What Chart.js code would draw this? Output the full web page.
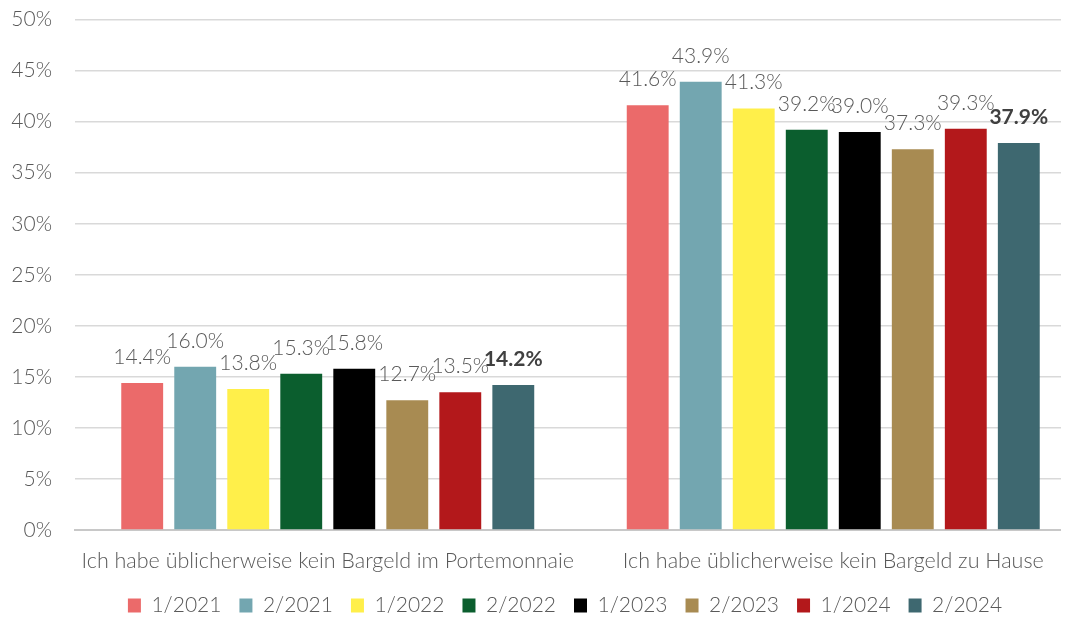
<!DOCTYPE html>
<html>
<head>
<meta charset="utf-8">
<script src="https://cdn.jsdelivr.net/npm/chart.js@4/dist/chart.umd.min.js"></script>
<style>
  html, body { margin: 0; padding: 0; background: #ffffff; overflow: hidden; }
  #frame { width: 1061px; height: 617px; overflow: hidden; position: relative; }
  canvas { display: block; }
</style>
</head>
<body>
<div id="frame"><canvas id="c" width="1152" height="630"></canvas></div>
<script>
// Survey answers (share of respondents, %)
const categories = [
  'Ich habe üblicherweise kein Bargeld im Portemonnaie',
  'Ich habe üblicherweise kein Bargeld zu Hause'
];
const waves = ['1/2021', '2/2021', '1/2022', '2/2022', '1/2023', '2/2023', '1/2024', '2/2024'];
const waveColors = ['#EB6A6A', '#73A6B0', '#FFEF4A', '#0B5E2E', '#000000', '#A88B52', '#B3181B', '#3E6870'];
const v_1_2021 = [14.4, 41.6];
const v_2_2021 = [16.0, 43.9];
const v_1_2022 = [13.8, 41.3];
const v_2_2022 = [15.3, 39.2];
const v_1_2023 = [15.8, 39.0];
const v_2_2023 = [12.7, 37.3];
const v_1_2024 = [13.5, 39.3];
const v_2_2024 = [14.2, 37.9];
const seriesValues = [v_1_2021, v_2_2021, v_1_2022, v_2_2022, v_1_2023, v_2_2023, v_1_2024, v_2_2024];
const yTicks = [0, 5, 10, 15, 20, 25, 30, 35, 40, 45, 50];

const FONT = 'Lato, "Open Sans", sans-serif';
const GREY = '#595959';

// Value labels above each bar; the latest wave is set in bold
const valueLabels = {
  id: 'valueLabels',
  afterDatasetsDraw(chart) {
    const ctx = chart.ctx;
    ctx.save();
    ctx.textAlign = 'center';
    ctx.textBaseline = 'alphabetic';
    chart.data.datasets.forEach((ds, di) => {
      const meta = chart.getDatasetMeta(di);
      const last = di === chart.data.datasets.length - 1;
      ctx.font = (last ? '700 ' : '300 ') + '21px ' + FONT;
      ctx.fillStyle = last ? '#404040' : GREY;
      meta.data.forEach((bar, i) => {
        ctx.fillText(ds.data[i].toFixed(1) + '%', bar.x, bar.y - 19);
      });
    });
    ctx.restore();
  }
};

// Centre the legend row under the plot rather than the whole canvas
const legendInset = {
  id: 'legendInset',
  afterLayout(chart) {
    if (chart.legend) chart.legend.left += 44;
  }
};

new Chart(document.getElementById('c'), {
  type: 'bar',
  data: {
    labels: categories,
    datasets: waves.map((w, i) => ({
      label: w,
      data: seriesValues[i],
      backgroundColor: waveColors[i],
      borderWidth: 0,
      categoryPercentage: 0.839,
      barPercentage: 0.79
    }))
  },
  options: {
    responsive: false,
    animation: false,
    layout: { padding: { left: 0, right: 66, top: 0, bottom: 4 } },
    scales: {
      x: {
        afterFit(scale) { scale.height -= 8; },
        grid: { display: false },
        border: { display: true, color: '#C8C8C8', width: 2 },
        ticks: {
          color: GREY,
          font: { family: FONT, size: 21.5, weight: '300', lineHeight: 0.7 },
          padding: 16,
          maxRotation: 0,
          autoSkip: false
        }
      },
      y: {
        min: 0,
        max: 50,
        afterFit(scale) { scale.width = 75; },
        afterBuildTicks(scale) { scale.ticks = yTicks.map(v => ({ value: v })); },
        grid: { color: '#D9D9D9', lineWidth: 1.5, drawTicks: true, tickLength: 16, tickColor: 'rgba(0,0,0,0)' },
        border: { display: false },
        ticks: {
          color: GREY,
          font: { family: FONT, size: 21, weight: '300' },
          padding: 7,
          callback: v => v + '%'
        }
      }
    },
    plugins: {
      legend: {
        position: 'bottom',
        labels: {
          color: GREY,
          font: { family: FONT, size: 21, weight: '300' },
          boxWidth: 13,
          boxHeight: 14,
          padding: 18
        }
      },
      tooltip: { enabled: false }
    }
  },
  plugins: [valueLabels, legendInset]
});
</script>
</body>
</html>
